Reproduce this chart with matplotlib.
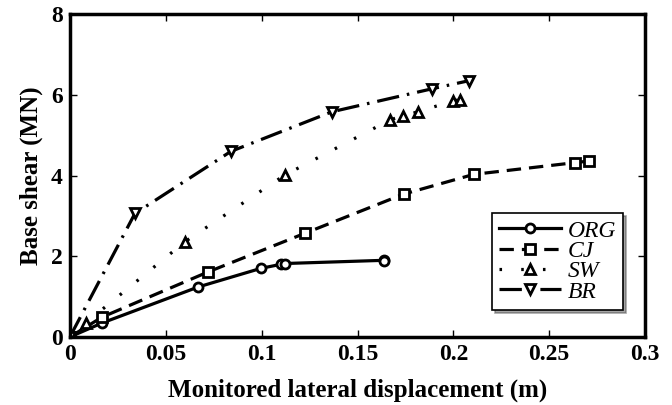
import matplotlib
matplotlib.use("Agg")
import matplotlib.pyplot as plt

plt.rcParams['font.family'] = ['Liberation Serif', 'DejaVu Serif']

org_x = [0.0, 0.017, 0.067, 0.0996, 0.110, 0.112, 0.164, 0.164]
org_y = [0.0, 0.35, 1.24, 1.70, 1.80, 1.82, 1.90, 1.88]
cj_x = [0.0, 0.0167, 0.072, 0.1226, 0.174, 0.2107, 0.2634, 0.2707]
cj_y = [0.0, 0.49, 1.61, 2.57, 3.54, 4.03, 4.32, 4.36]
sw_x = [0.0, 0.0083, 0.060, 0.112, 0.167, 0.1737, 0.1815, 0.1998, 0.2034]
sw_y = [0.0, 0.35, 2.36, 4.01, 5.38, 5.48, 5.58, 5.85, 5.88]
br_x = [0.0, 0.0339, 0.084, 0.1366, 0.1888, 0.208]
br_y = [0.0, 3.06, 4.60, 5.58, 6.15, 6.35]

labels = ['ORG', 'CJ', 'SW', 'BR']

fig = plt.figure(figsize=(6.72, 4.05), dpi=100)
ax = fig.add_axes([0.104, 0.168, 0.856, 0.797])

common = dict(color='black', lw=2.3, ms=6.5, mew=2, mfc='white', mec='black')
ax.plot(org_x, org_y, '-', marker='o', label=labels[0], **common)
ax.plot(cj_x, cj_y, linestyle=(0, (4.5, 2.5)), marker='s', label=labels[1], **common)
ax.plot(sw_x, sw_y, linestyle=(0, (0.8, 6)), marker='^', label=labels[2], **common)
ax.plot(br_x, br_y, linestyle=(0, (7, 2.5, 0.8, 2.5)), marker='v', label=labels[3], **common)

ax.set_xlim(0, 0.3)
ax.set_ylim(0, 8)
ax.set_xticks([0, 0.05, 0.1, 0.15, 0.2, 0.25, 0.3])
ax.set_xticklabels(['0', '0.05', '0.1', '0.15', '0.2', '0.25', '0.3'])
ax.set_yticks([0, 2, 4, 6, 8])
ax.tick_params(direction='in', top=True, right=True, length=5, width=1, labelsize=17, pad=5)
for lab in ax.get_xticklabels() + ax.get_yticklabels():
    lab.set_fontweight('bold')
for s in ax.spines.values():
    s.set_linewidth(2.5)

ax.set_xlabel('Monitored lateral displacement (m)', fontsize=18, fontweight='bold', labelpad=10)
ax.set_ylabel('Base shear (MN)', fontsize=18, fontweight='bold', labelpad=6)

leg = ax.legend(loc='lower right', bbox_to_anchor=(0.962, 0.084), borderaxespad=0,
                fancybox=False, shadow=True,
                edgecolor='black', framealpha=1, prop={'style': 'italic', 'size': 17},
                handlelength=2.6, handletextpad=0.3, labelspacing=-0.05, borderpad=0.3)
leg.get_frame().set_linewidth(1.2)

fig.savefig('out.png', dpi=100)
